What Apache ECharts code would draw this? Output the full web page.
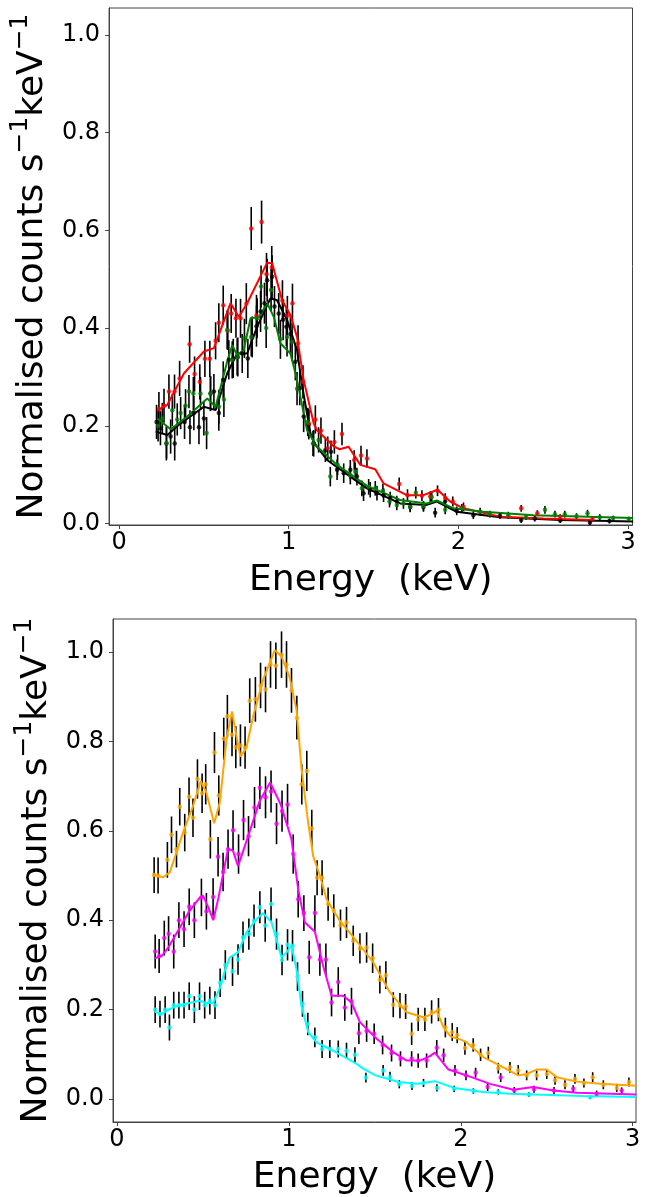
<!DOCTYPE html>
<html>
<head>
<meta charset="utf-8">
<script src="https://cdn.jsdelivr.net/npm/echarts@6/dist/echarts.min.js"></script>
<style>html,body{margin:0;padding:0;background:#fff;}#c{width:654px;height:1197px;}</style>
</head>
<body>
<div id="c"></div>
<script>
// ---------- tick labels ----------
const xTicks = [0, 1, 2, 3];
const yTicks = [0, 0.2, 0.4, 0.6, 0.8, 1.0];

// ---------- top panel: observed points [E, value, error] ----------
const blackPts = [[0.221,0.208,0.035],[0.244,0.195,0.035],[0.279,0.164,0.035],[0.304,0.178,0.035],[0.328,0.164,0.035],[0.386,0.208,0.035],[0.418,0.197,0.035],[0.441,0.226,0.035],[0.471,0.197,0.035],[0.5,0.215,0.035],[0.539,0.266,0.036],[0.559,0.27,0.036],[0.588,0.226,0.036],[0.614,0.294,0.038],[0.647,0.335,0.04],[0.673,0.338,0.04],[0.7,0.341,0.04],[0.726,0.348,0.04],[0.759,0.338,0.04],[0.785,0.382,0.042],[0.81,0.404,0.042],[0.834,0.434,0.042],[0.857,0.451,0.042],[0.873,0.498,0.044],[0.902,0.505,0.044],[0.916,0.444,0.042],[0.941,0.43,0.042],[0.967,0.417,0.042],[0.986,0.403,0.04],[1.01,0.388,0.04],[1.039,0.331,0.038],[1.065,0.277,0.035],[1.088,0.219,0.032],[1.118,0.202,0.03],[1.147,0.164,0.027],[1.216,0.15,0.024],[1.249,0.147,0.023],[1.285,0.11,0.021],[1.324,0.103,0.02],[1.363,0.11,0.02],[1.402,0.096,0.018],[1.441,0.062,0.016],[1.48,0.069,0.016],[1.52,0.062,0.015],[1.559,0.058,0.014],[1.598,0.052,0.013],[1.637,0.045,0.012],[1.716,0.034,0.011],[1.794,0.034,0.01],[1.863,0.022,0.01],[1.922,0.045,0.01],[1.99,0.026,0.009],[2.088,0.017,0.008],[2.245,0.016,0.007],[2.37,0.007,0.006],[2.45,0.01,0.006],[2.6,0.006,0.005],[2.775,0.002,0.005],[2.89,0.005,0.005]];
const redPts = [[0.235,0.234,0.035],[0.265,0.241,0.035],[0.294,0.27,0.035],[0.327,0.27,0.035],[0.357,0.297,0.036],[0.416,0.367,0.038],[0.445,0.306,0.036],[0.476,0.29,0.036],[0.506,0.337,0.037],[0.535,0.337,0.037],[0.569,0.374,0.038],[0.588,0.411,0.04],[0.614,0.447,0.04],[0.641,0.395,0.04],[0.661,0.43,0.04],[0.689,0.42,0.04],[0.716,0.42,0.04],[0.75,0.45,0.042],[0.779,0.604,0.044],[0.81,0.426,0.042],[0.84,0.617,0.044],[0.869,0.51,0.044],[0.9,0.524,0.044],[0.963,0.456,0.042],[0.992,0.426,0.04],[1.022,0.451,0.04],[1.055,0.369,0.037],[1.084,0.29,0.034],[1.118,0.205,0.03],[1.157,0.213,0.029],[1.19,0.19,0.027],[1.23,0.154,0.024],[1.269,0.167,0.024],[1.314,0.183,0.023],[1.386,0.13,0.02],[1.426,0.139,0.02],[1.461,0.133,0.019],[1.651,0.081,0.013],[1.7,0.058,0.012],[1.785,0.057,0.011],[1.834,0.055,0.011],[1.877,0.067,0.011],[1.922,0.052,0.01],[1.967,0.045,0.01],[2.03,0.034,0.009],[2.37,0.031,0.007],[2.465,0.021,0.006],[2.6,0.014,0.005],[2.79,0.009,0.005]];
const greenPts = [[0.23,0.2,0.032],[0.255,0.215,0.032],[0.28,0.165,0.032],[0.314,0.232,0.033],[0.343,0.213,0.033],[0.363,0.226,0.033],[0.392,0.241,0.034],[0.412,0.27,0.034],[0.438,0.266,0.034],[0.48,0.266,0.034],[0.516,0.185,0.033],[0.539,0.266,0.035],[0.588,0.239,0.035],[0.618,0.254,0.036],[0.637,0.396,0.04],[0.667,0.335,0.038],[0.696,0.341,0.038],[0.739,0.379,0.04],[0.779,0.382,0.04],[0.814,0.42,0.041],[0.837,0.485,0.043],[0.867,0.4,0.041],[0.896,0.478,0.043],[0.951,0.377,0.04],[0.99,0.382,0.04],[1.02,0.372,0.039],[1.049,0.276,0.034],[1.112,0.208,0.029],[1.143,0.164,0.026],[1.176,0.171,0.026],[1.245,0.096,0.02],[1.288,0.12,0.021],[1.363,0.099,0.019],[1.392,0.106,0.019],[1.431,0.072,0.016],[1.471,0.075,0.016],[1.51,0.072,0.015],[1.555,0.067,0.014],[1.594,0.045,0.012],[1.637,0.038,0.011],[1.676,0.041,0.011],[1.716,0.034,0.01],[1.749,0.063,0.012],[1.794,0.036,0.01],[1.843,0.054,0.011],[1.922,0.028,0.009],[2.02,0.031,0.009],[2.128,0.024,0.008],[2.186,0.019,0.007],[2.294,0.017,0.007],[2.398,0.013,0.006],[2.51,0.028,0.008],[2.569,0.019,0.007],[2.627,0.019,0.007],[2.696,0.015,0.006],[2.761,0.021,0.007],[2.833,0.013,0.006],[2.912,0.011,0.005],[3.004,0.009,0.005]];

// ---------- top panel: model curves [E, value] ----------
const redModel = [[0.226,0.232],[0.285,0.243],[0.382,0.307],[0.5,0.352],[0.559,0.359],[0.657,0.451],[0.706,0.423],[0.755,0.451],[0.873,0.534],[0.902,0.533],[0.961,0.457],[1.01,0.427],[1.049,0.382],[1.088,0.294],[1.147,0.205],[1.167,0.191],[1.265,0.158],[1.3,0.152],[1.353,0.157],[1.422,0.12],[1.51,0.111],[1.559,0.082],[1.696,0.058],[1.794,0.058],[1.877,0.069],[1.951,0.045],[2.03,0.031],[2.245,0.014],[2.5,0.01],[2.79,0.007]];
const blackModel = [[0.216,0.188],[0.285,0.181],[0.363,0.205],[0.5,0.239],[0.569,0.232],[0.637,0.307],[0.696,0.348],[0.755,0.348],[0.814,0.403],[0.892,0.461],[0.931,0.457],[0.99,0.417],[1.049,0.355],[1.08,0.28],[1.128,0.185],[1.147,0.166],[1.226,0.13],[1.363,0.096],[1.461,0.072],[1.657,0.041],[1.814,0.038],[1.873,0.045],[1.99,0.024],[2.245,0.013],[2.6,0.007],[3.03,0.004]];
const greenModel = [[0.226,0.215],[0.304,0.193],[0.402,0.219],[0.52,0.256],[0.569,0.239],[0.637,0.331],[0.667,0.365],[0.696,0.345],[0.735,0.355],[0.775,0.42],[0.824,0.422],[0.873,0.451],[0.912,0.423],[0.951,0.369],[1.01,0.348],[1.049,0.294],[1.088,0.226],[1.108,0.191],[1.167,0.157],[1.285,0.12],[1.461,0.077],[1.657,0.048],[1.814,0.041],[1.873,0.047],[1.971,0.031],[2.147,0.024],[2.441,0.017],[3.03,0.011]];

// ---------- bottom panel: observed points [E, value, error] ----------
const orangePts = [[0.216,0.501,0.04],[0.239,0.5,0.04],[0.293,0.535,0.04],[0.317,0.591,0.041],[0.346,0.559,0.041],[0.365,0.654,0.042],[0.394,0.596,0.042],[0.419,0.676,0.043],[0.442,0.629,0.043],[0.468,0.716,0.044],[0.495,0.684,0.044],[0.516,0.704,0.045],[0.543,0.581,0.043],[0.567,0.775,0.046],[0.592,0.679,0.045],[0.621,0.806,0.047],[0.642,0.856,0.048],[0.669,0.815,0.048],[0.691,0.787,0.047],[0.718,0.791,0.047],[0.745,0.786,0.047],[0.772,0.891,0.05],[0.805,0.894,0.05],[0.835,0.925,0.051],[0.864,0.916,0.051],[0.893,0.972,0.052],[0.924,0.969,0.052],[0.957,0.994,0.052],[0.986,0.972,0.052],[1.015,0.914,0.05],[1.046,0.853,0.049],[1.075,0.704,0.045],[1.104,0.734,0.045],[1.133,0.605,0.042],[1.164,0.495,0.039],[1.193,0.495,0.039],[1.228,0.436,0.037],[1.261,0.421,0.037],[1.3,0.389,0.035],[1.335,0.395,0.035],[1.374,0.354,0.034],[1.413,0.337,0.034],[1.452,0.339,0.034],[1.487,0.315,0.033],[1.529,0.267,0.031],[1.564,0.277,0.031],[1.607,0.211,0.028],[1.646,0.209,0.028],[1.679,0.207,0.028],[1.714,0.146,0.025],[1.752,0.178,0.026],[1.791,0.178,0.026],[1.83,0.195,0.026],[1.87,0.2,0.026],[1.91,0.16,0.022],[1.95,0.15,0.02],[1.979,0.143,0.018],[2.024,0.114,0.015],[2.072,0.121,0.015],[2.115,0.099,0.014],[2.16,0.103,0.014],[2.218,0.069,0.012],[2.286,0.071,0.012],[2.334,0.064,0.012],[2.383,0.053,0.011],[2.441,0.053,0.011],[2.5,0.056,0.011],[2.548,0.042,0.01],[2.606,0.032,0.01],[2.664,0.045,0.011],[2.716,0.036,0.01],[2.767,0.049,0.011],[2.829,0.032,0.01],[2.907,0.025,0.009],[2.978,0.038,0.01]];
const magentaPts = [[0.222,0.33,0.038],[0.245,0.32,0.038],[0.275,0.36,0.039],[0.3,0.37,0.039],[0.33,0.33,0.038],[0.36,0.4,0.04],[0.39,0.38,0.04],[0.42,0.43,0.041],[0.45,0.4,0.04],[0.491,0.451,0.042],[0.52,0.42,0.041],[0.559,0.452,0.042],[0.588,0.542,0.044],[0.617,0.508,0.043],[0.646,0.559,0.044],[0.675,0.601,0.045],[0.707,0.548,0.044],[0.736,0.624,0.045],[0.765,0.588,0.045],[0.8,0.652,0.046],[0.831,0.696,0.047],[0.864,0.675,0.047],[0.896,0.688,0.047],[0.928,0.616,0.046],[0.96,0.644,0.046],[0.992,0.659,0.046],[1.025,0.548,0.044],[1.054,0.447,0.041],[1.087,0.416,0.04],[1.118,0.317,0.037],[1.151,0.416,0.04],[1.18,0.312,0.036],[1.215,0.312,0.036],[1.248,0.216,0.031],[1.287,0.262,0.033],[1.325,0.205,0.03],[1.364,0.219,0.03],[1.407,0.147,0.024],[1.452,0.152,0.024],[1.496,0.146,0.023],[1.545,0.121,0.021],[1.597,0.103,0.019],[1.649,0.09,0.017],[1.714,0.09,0.017],[1.752,0.086,0.016],[1.801,0.086,0.016],[1.86,0.115,0.017],[1.9,0.098,0.015],[1.966,0.064,0.012],[2.03,0.053,0.011],[2.086,0.059,0.011],[2.156,0.027,0.009],[2.232,0.048,0.01],[2.311,0.019,0.008],[2.426,0.022,0.008],[2.542,0.019,0.008],[2.654,0.023,0.008],[2.79,0.012,0.007],[2.936,0.019,0.007]];
const cyanPts = [[0.222,0.2,0.03],[0.25,0.19,0.03],[0.28,0.2,0.03],[0.305,0.16,0.029],[0.33,0.21,0.03],[0.36,0.21,0.03],[0.39,0.21,0.03],[0.42,0.23,0.031],[0.45,0.2,0.03],[0.48,0.23,0.031],[0.51,0.21,0.03],[0.54,0.22,0.031],[0.57,0.21,0.031],[0.6,0.26,0.032],[0.63,0.3,0.033],[0.672,0.286,0.033],[0.704,0.312,0.034],[0.733,0.362,0.035],[0.767,0.369,0.035],[0.797,0.399,0.036],[0.831,0.429,0.036],[0.862,0.388,0.036],[0.896,0.436,0.037],[0.928,0.369,0.035],[0.96,0.311,0.034],[0.992,0.345,0.035],[1.021,0.343,0.035],[1.05,0.274,0.032],[1.079,0.213,0.029],[1.11,0.168,0.025],[1.151,0.138,0.022],[1.193,0.112,0.02],[1.238,0.112,0.02],[1.287,0.112,0.019],[1.335,0.108,0.018],[1.384,0.099,0.017],[1.448,0.048,0.011],[1.548,0.064,0.012],[1.588,0.05,0.011],[1.642,0.033,0.009],[1.716,0.029,0.009],[1.783,0.036,0.009],[1.861,0.025,0.008],[1.961,0.023,0.007],[2.073,0.018,0.006],[2.218,0.016,0.006],[2.396,0.01,0.005],[2.753,0.004,0.004]];

// ---------- bottom panel: model curves [E, value] ----------
const orangeModel = [[0.214,0.501],[0.268,0.496],[0.307,0.507],[0.384,0.596],[0.442,0.655],[0.487,0.711],[0.52,0.685],[0.565,0.617],[0.598,0.663],[0.637,0.804],[0.669,0.867],[0.691,0.819],[0.718,0.766],[0.753,0.786],[0.792,0.856],[0.85,0.938],[0.918,1.004],[0.957,0.99],[1.005,0.942],[1.044,0.871],[1.073,0.74],[1.112,0.618],[1.141,0.544],[1.18,0.5],[1.219,0.447],[1.296,0.399],[1.384,0.358],[1.49,0.306],[1.587,0.239],[1.685,0.194],[1.781,0.183],[1.82,0.188],[1.86,0.197],[1.9,0.16],[1.94,0.14],[2.0,0.133],[2.03,0.128],[2.13,0.094],[2.228,0.075],[2.334,0.053],[2.383,0.056],[2.441,0.066],[2.5,0.066],[2.558,0.049],[2.674,0.039],[2.81,0.034],[3.02,0.03]];
const magentaModel = [[0.22,0.315],[0.26,0.32],[0.3,0.34],[0.36,0.38],[0.42,0.42],[0.48,0.45],[0.5,0.455],[0.53,0.43],[0.56,0.4],[0.59,0.45],[0.646,0.56],[0.675,0.555],[0.704,0.521],[0.763,0.588],[0.831,0.668],[0.891,0.708],[0.952,0.659],[1.015,0.581],[1.054,0.469],[1.093,0.395],[1.151,0.374],[1.199,0.298],[1.248,0.231],[1.316,0.231],[1.364,0.216],[1.413,0.172],[1.51,0.135],[1.607,0.105],[1.685,0.086],[1.762,0.086],[1.82,0.096],[1.849,0.104],[1.928,0.066],[2.062,0.049],[2.17,0.034],[2.305,0.021],[2.421,0.027],[2.538,0.019],[2.674,0.014],[3.02,0.01]];
const cyanModel = [[0.22,0.195],[0.26,0.19],[0.3,0.2],[0.36,0.21],[0.42,0.215],[0.48,0.22],[0.52,0.215],[0.56,0.215],[0.6,0.25],[0.63,0.29],[0.656,0.317],[0.704,0.328],[0.753,0.373],[0.811,0.402],[0.85,0.416],[0.899,0.395],[0.957,0.317],[0.986,0.328],[1.015,0.343],[1.044,0.291],[1.073,0.209],[1.112,0.15],[1.161,0.127],[1.238,0.112],[1.325,0.094],[1.392,0.079],[1.432,0.068],[1.504,0.053],[1.638,0.038],[1.749,0.034],[1.849,0.04],[1.961,0.025],[2.13,0.016],[2.285,0.012],[2.713,0.007],[3.02,0.0045]];

// ---------- build chart ----------
const FONT = 'DejaVu Sans';
const FRAME = '#444';

function xAxisCfg(gi, min, max) {
  return {
    type: 'value', gridIndex: gi, min: min, max: max,
    axisLine: { show: true, onZero: false, lineStyle: { color: FRAME, width: 1 } },
    axisTick: { show: true, length: 4, customValues: xTicks, lineStyle: { color: FRAME, width: 1 } },
    axisLabel: { customValues: xTicks, formatter: v => String(Math.round(v)), fontSize: 24, fontFamily: FONT, color: '#000', margin: 6 },
    splitLine: { show: false },
    name: 'Energy  (keV)', nameLocation: 'middle', nameGap: 38,
    nameTextStyle: { fontSize: 36, fontFamily: FONT, color: '#000' }
  };
}
function yAxisCfg(gi, min, max) {
  return {
    type: 'value', gridIndex: gi, min: min, max: max,
    axisLine: { show: true, onZero: false, lineStyle: { color: FRAME, width: 1 } },
    axisTick: { show: true, length: 4, customValues: yTicks, lineStyle: { color: FRAME, width: 1 } },
    axisLabel: { customValues: yTicks, formatter: v => v.toFixed(1), fontSize: 24, fontFamily: FONT, color: '#000', margin: 9 },
    splitLine: { show: false },
    name: '{a|Normalised counts s}{b|\u22121}{a|keV}{b|\u22121}',
    nameLocation: 'middle', nameGap: 42,
    nameTextStyle: {
      fontFamily: FONT, color: '#000', fontSize: 36,
      rich: {
        a: { fontSize: 36, lineHeight: 50, fontFamily: FONT, color: '#000' },
        b: { fontSize: 25, lineHeight: 25, fontFamily: FONT, color: '#000', verticalAlign: 'top' }
      }
    }
  };
}

function errSeries(pts, gi) {
  return {
    type: 'custom', xAxisIndex: gi, yAxisIndex: gi, z: 1, clip: true,
    data: pts.map(p => [p[0], p[1] - p[2], p[1] + p[2]]),
    encode: { x: 0, y: [1, 2] },
    renderItem: function (params, api) {
      const a = api.coord([api.value(0), api.value(1)]);
      const b = api.coord([api.value(0), api.value(2)]);
      return { type: 'line', shape: { x1: a[0], y1: a[1], x2: b[0], y2: b[1] }, style: { stroke: '#000', lineWidth: 1.6 } };
    }
  };
}
function ptSeries(pts, gi, color) {
  return {
    type: 'scatter', xAxisIndex: gi, yAxisIndex: gi, z: 4,
    data: pts.map(p => [p[0], p[1]]), symbol: 'circle', symbolSize: 4.5,
    itemStyle: { color: color }
  };
}
function modelSeries(m, gi, color) {
  return {
    type: 'line', xAxisIndex: gi, yAxisIndex: gi, z: 3, data: m,
    showSymbol: false, symbol: 'none', smooth: false, clip: true,
    lineStyle: { color: color, width: 2 }
  };
}

const chart = echarts.init(document.getElementById('c'), null, { renderer: 'canvas' });
chart.setOption({
  animation: false,
  backgroundColor: '#fff',
  grid: [
    { left: 108, top: 8, width: 524.5, height: 517, show: true, borderColor: FRAME, borderWidth: 1, containLabel: false },
    { left: 113, top: 619, width: 523, height: 504, show: true, borderColor: FRAME, borderWidth: 1, containLabel: false }
  ],
  xAxis: [xAxisCfg(0, -0.0588, 3.026), xAxisCfg(1, -0.0233, 3.019)],
  yAxis: [yAxisCfg(0, -0.0031, 1.0553), yAxisCfg(1, -0.0513, 1.0737)],
  series: [
    errSeries(blackPts, 0), errSeries(redPts, 0), errSeries(greenPts, 0),
    modelSeries(blackModel, 0, '#000000'), modelSeries(redModel, 0, '#ff0000'), modelSeries(greenModel, 0, '#008000'),
    ptSeries(blackPts, 0, '#000000'), ptSeries(redPts, 0, '#ff0000'), ptSeries(greenPts, 0, '#008000'),
    errSeries(orangePts, 1), errSeries(magentaPts, 1), errSeries(cyanPts, 1),
    modelSeries(orangeModel, 1, '#ffa500'), modelSeries(magentaModel, 1, '#ff00ff'), modelSeries(cyanModel, 1, '#00ffff'),
    ptSeries(orangePts, 1, '#ffa500'), ptSeries(magentaPts, 1, '#ff00ff'), ptSeries(cyanPts, 1, '#00ffff')
  ]
});
</script>
</body>
</html>
